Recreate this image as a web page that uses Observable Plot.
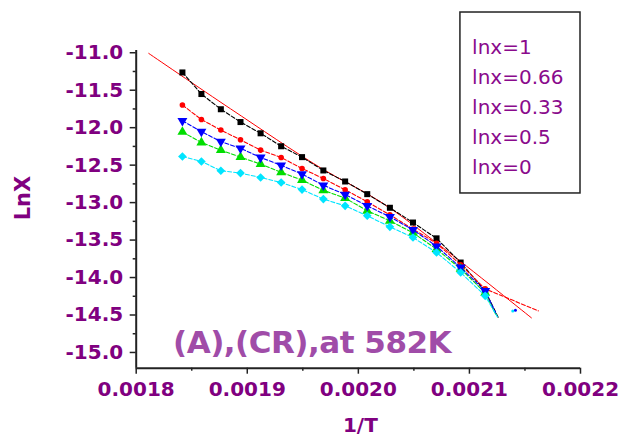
<!DOCTYPE html>
<html>
<head>
<meta charset="utf-8">
<script src="https://cdn.jsdelivr.net/npm/d3@7"></script>
<script src="https://cdn.jsdelivr.net/npm/@observablehq/plot@0.6"></script>
<style>
  html, body { margin: 0; padding: 0; background: #fff; }
  #chart svg { display: block; }
  .title-text { letter-spacing: -0.5px; }
</style>
</head>
<body>
<div id="chart"></div>
<script>
// Reciprocal temperature (1/K) of each measurement
const invT = [0.0018416, 0.0018587, 0.0018762, 0.0018939, 0.0019120, 0.0019305, 0.0019493,
              0.0019685, 0.0019881, 0.0020080, 0.0020284, 0.0020492, 0.0020704, 0.0020921, 0.0021142];

// ln X for each composition
const lnX_1    = [-11.263, -11.551, -11.754, -11.925, -12.075, -12.248, -12.393, -12.571,
                  -12.718, -12.887, -13.069, -13.266, -13.477, -13.800, -14.178];
const lnX_066  = [-11.698, -11.891, -12.032, -12.162, -12.299, -12.398, -12.545, -12.678,
                  -12.829, -12.989, -13.163, -13.354, -13.543, -13.830, -14.151];
const lnX_033  = [-11.908, -12.052, -12.186, -12.275, -12.398, -12.502, -12.619, -12.769,
                  -12.892, -13.043, -13.190, -13.363, -13.583, -13.866, -14.178];
const lnX_05   = [-12.057, -12.198, -12.299, -12.393, -12.486, -12.595, -12.700, -12.836,
                  -12.940, -13.109, -13.243, -13.403, -13.621, -13.884, -14.204];
const lnX_0    = [-12.385, -12.451, -12.575, -12.606, -12.665, -12.732, -12.826, -12.953,
                  -13.043, -13.176, -13.323, -13.466, -13.666, -13.933, -14.244];

// Trailing low-temperature readings (drawn as line only)
const tailX_1   = [0.0021260];  const tailY_1   = [-14.534];
const tailX_066 = [0.0021620];  const tailY_066 = [-14.445];
const tailX_033 = [0.0021236];  const tailY_033 = [-14.471];
const tailX_05  = [0.0021240];  const tailY_05  = [-14.500];
const tailX_0   = [0.0021252];  const tailY_0   = [-14.525];

// Isolated last readings (small dots)
const endX_033 = [0.0021414];  const endY_033 = [-14.435];
const endX_0   = [0.0021390];  const endY_0   = [-14.445];

// Smoothed fit through the lnx=1 data
const fitX = [0.0018113, 0.0018849, 0.0019659, 0.0020199, 0.0020739, 0.0021558];
const fitY = [-11.009, -11.748, -12.535, -12.989, -13.577, -14.538];

// Legend entries and tick values
const legendLabels = ["lnx=1", "lnx=0.66", "lnx=0.33", "lnx=0.5", "lnx=0"];
const yTicks  = [-15.0, -14.5, -14.0, -13.5, -13.0, -12.5, -12.0, -11.5, -11.0];
const yMinor  = [-14.75, -14.25, -13.75, -13.25, -12.75, -12.25, -11.75, -11.25];
const xTicks  = [0.0018, 0.0019, 0.0020, 0.0021, 0.0022];
const xMinor  = [0.00185, 0.00195, 0.00205, 0.00215];
const titleText = "(A),(CR),at 582K";

// Down-pointing triangle symbol
const triangleDown = {
  draw(context, size) {
    const y = -Math.sqrt(size / (Math.sqrt(3) * 3));
    context.moveTo(0, -y * 2);
    context.lineTo(Math.sqrt(3) * y, y);
    context.lineTo(-Math.sqrt(3) * y, y);
    context.closePath();
  }
};

const series = [
  {ys: lnX_1,   tx: tailX_1,   ty: tailY_1,   ex: [],       ey: [],       color: "#000000", symbol: "square",   r: 3.4},
  {ys: lnX_066, tx: tailX_066, ty: tailY_066, ex: [],       ey: [],       color: "#ff0000", symbol: "circle",   r: 2.8},
  {ys: lnX_05,  tx: tailX_05,  ty: tailY_05,  ex: [],       ey: [],       color: "#00dd00", symbol: "triangle", r: 3.7},
  {ys: lnX_033, tx: tailX_033, ty: tailY_033, ex: endX_033, ey: endY_033, color: "#0000ff", symbol: triangleDown, r: 3.7},
  {ys: lnX_0,   tx: tailX_0,   ty: tailY_0,   ex: endX_0,   ey: endY_0,   color: "#00e5ff", symbol: "diamond2", r: 3.9}
];

const yDomain = [-15.21, -10.97];
const xDomain = [0.0018, 0.0022];
const labelColor = "#800080";
const axisColor = "#222";

const marks = [];

// fit curve
marks.push(Plot.line(fitX.map((x, i) => ({x, y: fitY[i]})), {
  x: "x", y: "y", stroke: "#ff0000", strokeWidth: 1, curve: "catmull-rom"
}));

for (const s of series) {
  const pts = invT.map((x, i) => ({x, y: s.ys[i]}));
  const tail = s.tx.map((x, i) => ({x, y: s.ty[i]}));
  marks.push(Plot.line(pts.concat(tail), {
    x: "x", y: "y", stroke: s.color, strokeWidth: 1.1, strokeDasharray: "4,2"
  }));
  marks.push(Plot.dot(pts, {
    x: "x", y: "y", symbol: s.symbol, r: s.r, fill: s.color, stroke: "none"
  }));
  if (s.ex.length) {
    marks.push(Plot.dot(s.ex.map((x, i) => ({x, y: s.ey[i]})), {
      x: "x", y: "y", r: 1.5, fill: s.color, stroke: "none"
    }));
  }
}

// axis lines
marks.push(Plot.ruleX([xDomain[0]], {y1: yDomain[0], y2: yDomain[1], stroke: axisColor, strokeWidth: 2}));
marks.push(Plot.ruleY([yDomain[0]], {x1: xDomain[0], x2: xDomain[1], stroke: axisColor, strokeWidth: 2}));

// y axis ticks and labels
marks.push(Plot.axisY({
  ticks: yTicks, tickSize: 6, tickPadding: 7, tickFormat: d => d.toFixed(1),
  fontSize: 20, fontWeight: "bold", fontFamily: "DejaVu Sans",
  fill: labelColor, stroke: axisColor, strokeWidth: 1.5, label: null
}));
marks.push(Plot.axisY({
  ticks: yMinor, tickSize: 3, tickFormat: () => "", stroke: axisColor, strokeWidth: 1.5, label: null
}));

// x axis ticks and labels
marks.push(Plot.axisX({
  ticks: xTicks, tickSize: 6, tickPadding: 8, tickFormat: d => d.toFixed(4),
  fontSize: 20, fontWeight: "bold", fontFamily: "DejaVu Sans",
  fill: labelColor, stroke: axisColor, strokeWidth: 1.5, label: null
}));
marks.push(Plot.axisX({
  ticks: xMinor, tickSize: 3, tickFormat: () => "", stroke: axisColor, strokeWidth: 1.5, label: null
}));

// axis titles
marks.push(Plot.text(["LnX"], {
  frameAnchor: "left", dx: -113, dy: 11, rotate: -90, text: d => d,
  fontSize: 21, fontWeight: "bold", fontFamily: "DejaVu Sans", fill: labelColor
}));
marks.push(Plot.text(["1/T"], {
  frameAnchor: "bottom", dx: 2, dy: 64, text: d => d,
  fontSize: 20, fontWeight: "bold", fontFamily: "DejaVu Sans", fill: labelColor
}));

// in-plot title
marks.push(Plot.text([titleText], {
  x: 0.0018331, y: -14.872, text: d => d, textAnchor: "start",
  fontSize: 31, fontWeight: "bold", fontFamily: "DejaVu Sans", fill: "#a04ca8",
  className: "title-text"
}));

// legend box
marks.push(Plot.rect([legendLabels], {
  x1: 0.0020919, x2: xDomain[1], y1: -10.463, y2: -12.878,
  fill: "white", stroke: axisColor, strokeWidth: 1.5
}));
marks.push(Plot.text(legendLabels, {
  x: 0.0021024, y: (d, i) => -10.93 - i * 0.4, text: d => d, textAnchor: "start",
  fontSize: 20, fontFamily: "DejaVu Sans", fill: "#8a0a8c"
}));

const chart = Plot.plot({
  width: 626,
  height: 442,
  marginLeft: 135.7,
  marginRight: 46,
  marginTop: 50,
  marginBottom: 74.3,
  x: {domain: xDomain},
  y: {domain: yDomain},
  style: {fontFamily: "DejaVu Sans", background: "white", overflow: "visible"},
  marks
});

document.getElementById("chart").appendChild(chart);
</script>
</body>
</html>
